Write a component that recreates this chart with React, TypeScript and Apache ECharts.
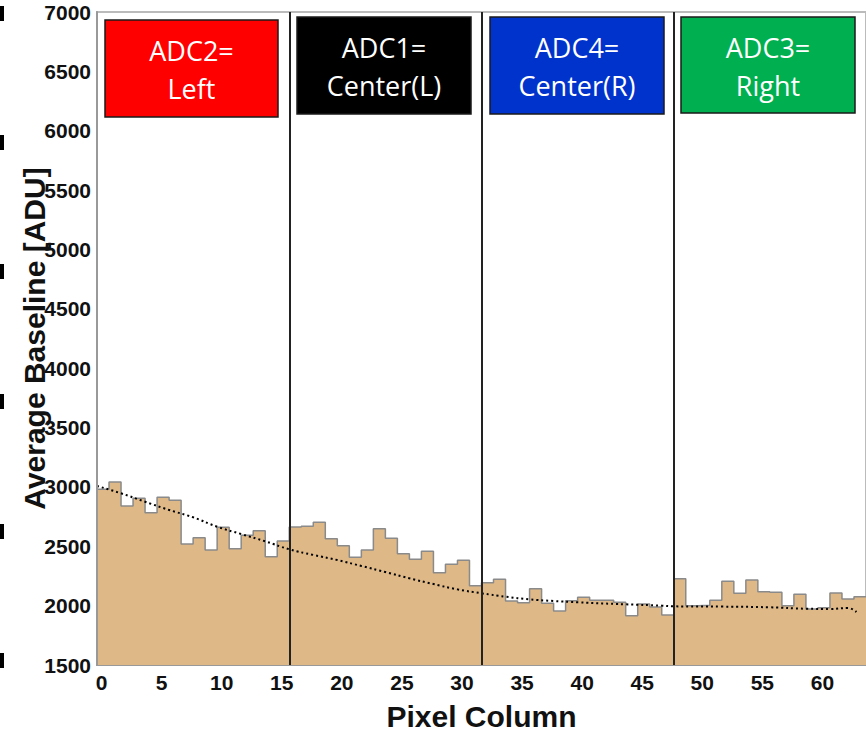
import React, { useEffect, useRef } from "react";
import * as echarts from "echarts";

// Histogram bin contents (bins 0..63, bin i spans [i, i+1])
const binValues = [
  2980, 3041, 2839, 2904, 2783, 2912, 2887, 2519, 2572, 2469, 2660, 2480, 2592, 2631, 2412, 2544,
  2662, 2668, 2702, 2564, 2505, 2407, 2469, 2648, 2567, 2438, 2390, 2458, 2278, 2348, 2382, 2168,
  2193, 2222, 2039, 2025, 2143, 2020, 1955, 2042, 2070, 2045, 2045, 2028, 1915, 2014, 1989, 1921,
  2227, 2000, 2003, 2045, 2205, 2104, 2216, 2118, 2112, 2000, 2095, 1972, 1983, 2106, 2056, 2075,
];

// Fitted trend (dotted curve)
const fitX = [0, 2, 4, 6, 8, 10, 12, 14, 16, 18, 20, 22, 24, 26, 28, 30, 32, 34, 36, 38, 40, 44, 47, 48, 52, 56, 59, 61, 62.5, 63.2];
const fitY = [3008, 2946, 2875, 2806, 2744, 2665, 2603, 2542, 2475, 2427, 2384, 2334, 2283, 2230, 2182, 2137, 2104, 2075, 2053, 2039, 2028, 2011, 2000, 1994, 1992, 1986, 1974, 1972, 1980, 1946];

// ADC boundaries
const boundaries = [16, 32, 48];

// ADC labels
const boxLabels = ["ADC2=\nLeft", "ADC1=\nCenter(L)", "ADC4=\nCenter(R)", "ADC3=\nRight"];
const boxColors = ["#ff0000", "#000000", "#0033cc", "#00b050"];

const yTicks = { min: 1500, max: 7000, interval: 500 };
const xTicks = { min: 0, max: 64, interval: 5 };

export default function App() {
  const ref = useRef<HTMLDivElement>(null);

  useEffect(() => {
    if (!ref.current) return;
    const chart = echarts.init(ref.current, undefined, { renderer: "svg" });

    const histData: number[][] = binValues.map((v, i) => [i, v]);
    histData.push([binValues.length, binValues[binValues.length - 1]]);
    const fitData = fitX.map((x, i) => [x, fitY[i]]);

    const boxRects = [
      { x: 105, y: 20, w: 173, h: 97 },
      { x: 297, y: 17, w: 174, h: 97 },
      { x: 490, y: 17, w: 174, h: 97 },
      { x: 681, y: 17, w: 174, h: 96 },
    ];

    const markCenters = [13, 142, 271, 401, 531, 660];

    const graphics: any[] = [];
    boxRects.forEach((b, i) => {
      graphics.push({
        type: "rect",
        shape: { x: b.x, y: b.y, width: b.w, height: b.h },
        style: { fill: boxColors[i], stroke: "#1a1a1a", lineWidth: 1.5 },
        z: 100,
      });
      graphics.push({
        type: "text",
        x: b.x + b.w / 2,
        y: b.y + b.h / 2 + 1,
        style: {
          text: boxLabels[i],
          fill: "#ffffff",
          font: "27px 'Open Sans'",
          align: "center",
          verticalAlign: "middle",
          lineHeight: 38,
        },
        z: 101,
      });
    });
    markCenters.forEach((c) => {
      graphics.push({
        type: "rect",
        shape: { x: 0, y: c - 7, width: 4, height: 15 },
        style: { fill: "#000" },
        z: 100,
      });
    });

    chart.setOption({
      animation: false,
      grid: {
        left: 97,
        top: 12,
        right: 0,
        bottom: 68,
        show: true,
        borderColor: "#bbbbbb",
        borderWidth: 2,
        containLabel: false,
        outerBoundsMode: "none",
      },
      xAxis: {
        type: "value",
        min: xTicks.min,
        max: xTicks.max,
        interval: xTicks.interval,
        name: "Pixel Column",
        nameLocation: "middle",
        nameGap: 36,
        nameMoveOverlap: false,
        nameTextStyle: {
          fontFamily: "Liberation Sans",
          fontWeight: "bold",
          fontSize: 30,
          color: "#111",
        },
        axisLine: { show: true, lineStyle: { color: "#999", width: 2 } },
        axisTick: { show: false },
        splitLine: { show: false },
        axisLabel: {
          fontFamily: "Liberation Sans",
          fontWeight: "bold",
          fontSize: 21,
          color: "#111",
          margin: 7,
          showMaxLabel: false,
          padding: [0, 0, 0, 9],
          formatter: (v: number) => String(v),
        },
      },
      yAxis: {
        type: "value",
        min: yTicks.min,
        max: yTicks.max,
        interval: yTicks.interval,
        name: "Average Baseline [ADU]",
        nameLocation: "middle",
        nameRotate: 90,
        nameGap: 48,
        nameMoveOverlap: false,
        nameTextStyle: {
          fontFamily: "Liberation Sans",
          fontWeight: "bold",
          fontSize: 30,
          color: "#111",
        },
        axisLine: { show: true, lineStyle: { color: "#999", width: 2 } },
        axisTick: { show: false },
        splitLine: { show: false },
        axisLabel: {
          fontFamily: "Liberation Sans",
          fontWeight: "bold",
          fontSize: 21,
          color: "#111",
          margin: 6,
          formatter: (v: number) => String(v),
        },
        z: 10,
      },
      series: [
        {
          type: "line",
          data: histData,
          step: "end",
          symbol: "none",
          lineStyle: { color: "#8a8a8a", width: 1.5 },
          areaStyle: { color: "#deb887", opacity: 1, origin: "start" },
          z: 2,
          markLine: {
            silent: true,
            symbol: "none",
            label: { show: false },
            lineStyle: { color: "#222", width: 2, type: "solid" },
            data: boundaries.map((b) => ({ xAxis: b })),
          },
        },
        {
          type: "line",
          data: fitData,
          smooth: true,
          symbol: "none",
          lineStyle: { color: "#000", width: 2, type: [2, 3] },
          z: 3,
        },
      ],
      graphic: graphics,
    });

    return () => chart.dispose();
  }, []);

  return (
    <div
      ref={ref}
      style={{ position: "absolute", left: 0, top: 0, width: 866, height: 733, background: "#fff" }}
    />
  );
}
